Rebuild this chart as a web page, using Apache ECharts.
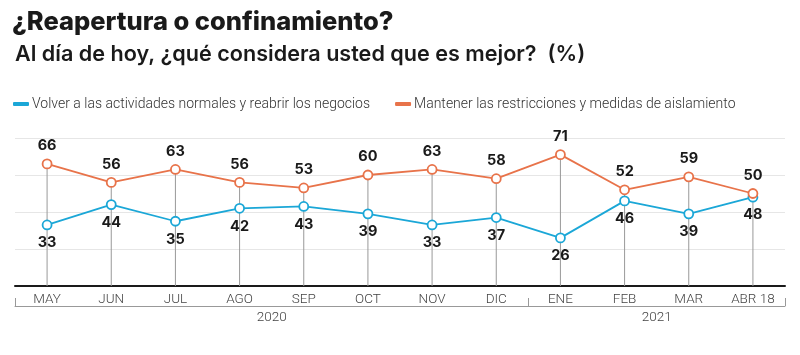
<!DOCTYPE html>
<html>
<head>
<meta charset="utf-8">
<script src="https://cdn.jsdelivr.net/npm/echarts@6/dist/echarts.min.js"></script>
<style>html,body{margin:0;padding:0;background:#fff}#c{width:800px;height:355px}</style>
</head>
<body>
<div id="c"></div>
<script>
const categories = ['MAY','JUN','JUL','AGO','SEP','OCT','NOV','DIC','ENE','FEB','MAR','ABR 18'];
const reabrir = [33,44,35,42,43,39,33,37,26,46,39,48];
const restricciones = [66,56,63,56,53,60,63,58,71,52,59,50];
const years = ['2020','2021'];
const yearMonths = [8,4];
const yTicks = [0,20,40,60,80];

const BLUE = '#1ba7d7';
const ORANGE = '#e8734a';
const NAME_A = 'Volver a las actividades normales y reabrir los negocios';
const NAME_B = 'Mantener las restricciones y medidas de aislamiento';

// year boundaries & centres on a 0..12 scale
const bounds = [0];
yearMonths.forEach(n => bounds.push(bounds[bounds.length-1] + n));
const centres = years.map((y,i) => (bounds[i] + bounds[i+1]) / 2);

const chart = echarts.init(document.getElementById('c'), null, {renderer:'canvas'});
chart.setOption({
  animation:false,
  backgroundColor:'#fff',
  title:[
    {text:'¿Reapertura o confinamiento?', left:7, top:4,
     textStyle:{fontFamily:'Inter', fontWeight:800, fontSize:25.5, color:'#1a1a1a'}},
    {text:'Al día de hoy, ¿qué considera usted que es mejor?  (%)', left:10, top:38,
     textStyle:{fontFamily:'Inter', fontWeight:600, fontSize:21.6, color:'#1a1a1a'}}
  ],
  legend:{
    left:8, top:92, itemWidth:16, itemHeight:4, itemGap:25, icon:'roundRect',
    itemStyle:{borderWidth:0},
    textStyle:{fontFamily:'Roboto', fontWeight:300, fontSize:14, color:'#333', padding:[0,0,0,-2]},
    data:[{name:NAME_A, itemStyle:{color:BLUE, borderWidth:0}},
          {name:NAME_B, itemStyle:{color:ORANGE, borderWidth:0}}]
  },
  grid:{left:15, right:15, top:138, bottom:69, containLabel:false},
  xAxis:[
    {type:'category', data:categories, boundaryGap:true,
     axisLine:{lineStyle:{color:'#1a1a1a', width:2}},
     axisTick:{show:false},
     axisLabel:{fontFamily:'Roboto', fontWeight:300, fontSize:13.5, color:'#444', margin:7}},
    {type:'value', min:0, max:12, position:'bottom', offset:20,
     axisLine:{show:true, lineStyle:{color:'#999', width:1}},
     axisTick:{show:true, inside:true, length:8, lineStyle:{color:'#999'}, customValues:bounds},
     axisLabel:{show:true, customValues:centres, margin:5,
       formatter:(v)=>{const i=centres.indexOf(v);return i>=0?years[i]:'';},
       fontFamily:'Roboto', fontWeight:300, fontSize:13.5, color:'#444'},
     splitLine:{show:false}}
  ],
  yAxis:{type:'value', min:yTicks[0], max:yTicks[yTicks.length-1], interval:20,
    axisLine:{show:false}, axisTick:{show:false}, axisLabel:{show:false},
    splitLine:{lineStyle:{color:'#e6e6e6', width:1}}},
  series:[
    {name:'drop', type:'bar', data:restricciones, barWidth:1, xAxisIndex:0,
     itemStyle:{color:'#999'}, silent:true, z:1, legendHoverLink:false},
    {name:NAME_A, type:'line', data:reabrir, xAxisIndex:0,
     symbol:'circle', symbolSize:9, z:3,
     lineStyle:{color:BLUE, width:1.8}, itemStyle:{color:'#fff', borderColor:BLUE, borderWidth:1.8},
     label:{show:true, position:'bottom', distance:5, fontFamily:'Inter', fontWeight:700, fontSize:14.5, color:'#1a1a1a'}},
    {name:NAME_B, type:'line', data:restricciones, xAxisIndex:0,
     symbol:'circle', symbolSize:9, z:4,
     lineStyle:{color:ORANGE, width:1.8}, itemStyle:{color:'#fff', borderColor:ORANGE, borderWidth:1.8},
     label:{show:true, position:'top', distance:5, fontFamily:'Inter', fontWeight:700, fontSize:14.5, color:'#1a1a1a'}}
  ]
});
</script>
</body>
</html>
